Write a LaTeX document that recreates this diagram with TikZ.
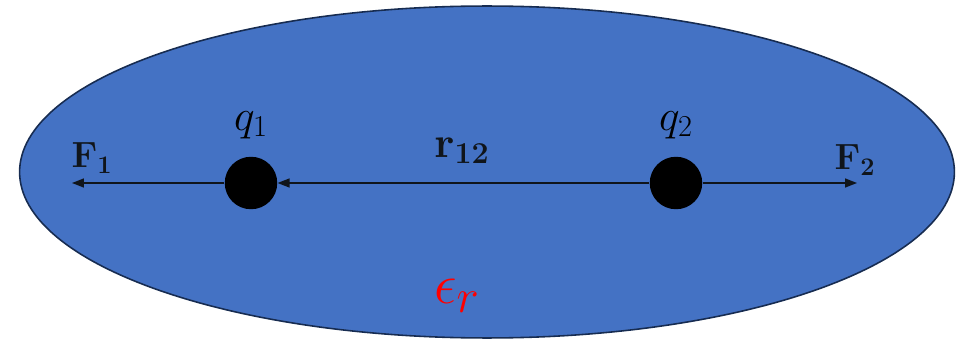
\documentclass[tikz,border=0pt]{standalone}
\usepackage{amsmath}
\usetikzlibrary{arrows.meta,positioning,shapes.geometric}
\definecolor{cMedium}{HTML}{4472C4}
\definecolor{cEdge}{HTML}{172C51}
\definecolor{cInk}{HTML}{10151B}
\definecolor{cPerm}{HTML}{FF0000}

\begin{document}
\begin{tikzpicture}[
  x=0.02cm, y=-0.02cm,
  >={Triangle[length=2.4mm, width=1.8mm]},
  medium/.style={ellipse, draw=cEdge, fill=cMedium, line width=0.9pt,
                 minimum width=18.7cm, minimum height=6.64cm, inner sep=0pt},
  charge/.style={circle, fill=black, minimum size=1.05cm, inner sep=0pt},
  force/.style={->, draw=cInk, line width=0.9pt},
  lab/.style={text=black, inner sep=0pt, font=\fontsize{23}{27}\selectfont},
  vec/.style={text=cInk, inner sep=0pt, font=\fontsize{20}{24}\selectfont},
]
\useasboundingbox (0,0) rectangle (971,341);

% dielectric medium
\node[medium] (med) at (487,172) {};

% point charges
\node[charge] (q1) at (251,183) {};
\node[charge] (q2) at (676,183) {};
\coordinate (f1end) at (72,183);
\coordinate (f2end) at (857,183);

% separation and forces
\draw[force] (q2) -- (q1);
\draw[force] (q1) -- (f1end);
\draw[force] (q2) -- (f2end);

% labels
\node[lab] (q1lab) at (251,125) {$q_1$};
\node[lab] (q2lab) at (676,125) {$q_2$};
\node[vec, font=\fontsize{27}{31}\selectfont] (rlab) at (462,151) {$\mathbf{r}_{\mathbf{12}}$};
\node[vec] (f1lab) at (92,158) {$\mathbf{F_1}$};
\node[vec] (f2lab) at (855,160) {$\mathbf{F_2}$};
\node[lab, text=cPerm, font=\Huge] (eps) at (457,296) {\scalebox{1.3}{$\epsilon_r$}};

\end{tikzpicture}
\end{document}
